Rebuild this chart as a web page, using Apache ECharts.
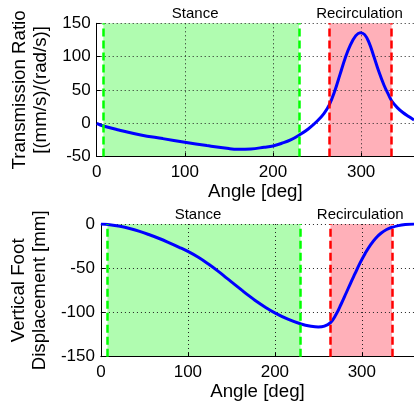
<!DOCTYPE html>
<html>
<head>
<meta charset="utf-8">
<script src="https://cdn.jsdelivr.net/npm/echarts@6/dist/echarts.min.js"></script>
<style>
html,body{margin:0;padding:0;background:#fff;}
#c{width:414px;height:409px;}
</style>
</head>
<body>
<div id="c"></div>
<script>
// ---- data ----
const angleTop = [0,7.5,25,50,75,100,125,150,160,175,190,200,210,220,230,240,250,258,264,270,276,282,288,294,299,304,309,314,320,326,331,335,341,347,354,360];
const ratio    = [0,-4,-10,-17.5,-23,-28.5,-33.5,-38,-39,-38.5,-36,-34,-30,-25,-17.5,-8.5,3,15,28,48,73,98,118,131.5,136,133,121,102,78,57,43,33,23.5,16.5,10,5];
const angleBot = [0,10,22,33,44.5,55,67,78,90,100,112,124,135,145,154,162,170,177,189,200,215,230,241.5,250,257,264,270,276,282,287,292,298,304,310,316,322,328,334,342,350,360];
const disp     = [0,-0.8,-2.6,-5,-8.3,-11.9,-16.4,-21,-26.3,-31,-37.6,-45.5,-53.5,-61.5,-68.5,-74.8,-81,-86.2,-94,-100.4,-107.6,-113,-115.6,-116.5,-115.5,-111.5,-103,-91,-78,-67,-56.5,-44,-33,-23.5,-16,-10.5,-6.5,-4,-1.8,-0.6,0];
const stanceRange = [7.5, 229.5];
const recircRange = [264, 334.6];
const xTicks = [0, 360, 100];        // min, max, interval
const yTopTicks = [-50, 150, 50];
const yBotTicks = [-150, 0, 50];
const stanceLabel = 'Stance';
const recircLabel = 'Recirculation';
const xTitle = 'Angle [deg]';
const yTopTitle = 'Transmission Ratio\n[(mm/s)/(rad/s)]';
const yBotTitle = 'Vertical Foot\nDisplacement [mm]';

const FONT = 'Liberation Sans, Arial, Helvetica, sans-serif';
const chart = echarts.init(document.getElementById('c'), null, {renderer:'canvas'});

function zip(a,b){ return a.map((v,i)=>[v,b[i]]); }

function xAxisCfg(gi){
  return {
    type:'value', gridIndex:gi, min:xTicks[0], max:xTicks[1], interval:xTicks[2], z:2,
    name:xTitle, nameLocation:'middle', nameGap:26,
    nameTextStyle:{fontFamily:FONT,fontSize:18.7,color:'#000'},
    axisLine:{show:true,onZero:false,lineStyle:{color:'#000',width:1}},
    axisTick:{show:true,inside:true,length:4,lineStyle:{color:'#000'}},
    axisLabel:{fontFamily:FONT,fontSize:17,color:'#000',margin:7,
      showMaxLabel:false},
    splitLine:{show:true,lineStyle:{color:'#222',type:[1,3],width:1}}
  };
}
function yAxisCfg(gi, t, name, gap){
  return {
    type:'value', gridIndex:gi, min:t[0], max:t[1], interval:t[2], z:2,
    name:name, nameLocation:'middle', nameGap:gap, nameRotate:90,
    nameTextStyle:{fontFamily:FONT,fontSize:18.7,color:'#000',lineHeight:21,align:'center'},
    axisLine:{show:true,lineStyle:{color:'#000',width:1}},
    axisTick:{show:true,inside:true,length:4,lineStyle:{color:'#000'}},
    axisLabel:{fontFamily:FONT,fontSize:17,color:'#000',margin:6},
    splitLine:{show:true,lineStyle:{color:'#222',type:[1,3],width:1}}
  };
}
function regionSeries(gi, xs, ys){
  return {
    type:'line', xAxisIndex:gi, yAxisIndex:gi, z:0, silent:true,
    data:zip(xs,ys), symbol:'none', lineStyle:{opacity:0},
    markArea:{silent:true, z:0,
      label:{show:true,position:'top',distance:2,fontFamily:FONT,fontSize:15,color:'#000'},
      data:[
        [{xAxis:stanceRange[0],name:stanceLabel,itemStyle:{color:'rgb(176,252,176)'},label:{offset:[-6,0]}},{xAxis:stanceRange[1]}],
        [{xAxis:recircRange[0],name:recircLabel,itemStyle:{color:'rgb(255,176,185)'},label:{offset:[-1,0]}},{xAxis:recircRange[1]}]
      ]}
  };
}
function curveSeries(gi, xs, ys){
  return {
    type:'line', xAxisIndex:gi, yAxisIndex:gi, z:3,
    data:zip(xs,ys), symbol:'none', smooth:0.4,
    lineStyle:{color:'#0000ff',width:3}
  };
}
function dashSeries(gi, xs, ys){
  return {
    type:'line', xAxisIndex:gi, yAxisIndex:gi, z:4, silent:true,
    data:zip(xs,ys), symbol:'none', lineStyle:{opacity:0},
    markLine:{silent:true, symbol:'none', label:{show:false}, z:5,
      data:[
        {xAxis:stanceRange[0],lineStyle:{color:'#00ff00',type:[8,4],width:2.5}},
        {xAxis:stanceRange[1],lineStyle:{color:'#00ff00',type:[8,4],width:2.5}},
        {xAxis:recircRange[0],lineStyle:{color:'#ff0000',type:[8,4],width:2.5}},
        {xAxis:recircRange[1],lineStyle:{color:'#ff0000',type:[8,4],width:2.5}}
      ]}
  };
}

chart.setOption({
  animation:false,
  backgroundColor:'#fff',
  grid:[
    {left:96.7, top:23.3, width:318, height:133.3},
    {left:96.7, top:224, width:318, height:132.7}
  ],
  xAxis:[xAxisCfg(0), xAxisCfg(1)],
  yAxis:[yAxisCfg(0,yTopTicks,yTopTitle,40), yAxisCfg(1,yBotTicks,yBotTitle,45)],
  series:[
    regionSeries(0, angleTop, ratio),
    curveSeries(0, angleTop, ratio),
    dashSeries(0, angleTop, ratio),
    regionSeries(1, angleBot, disp),
    curveSeries(1, angleBot, disp),
    dashSeries(1, angleBot, disp)
  ]
});
</script>
</body>
</html>
